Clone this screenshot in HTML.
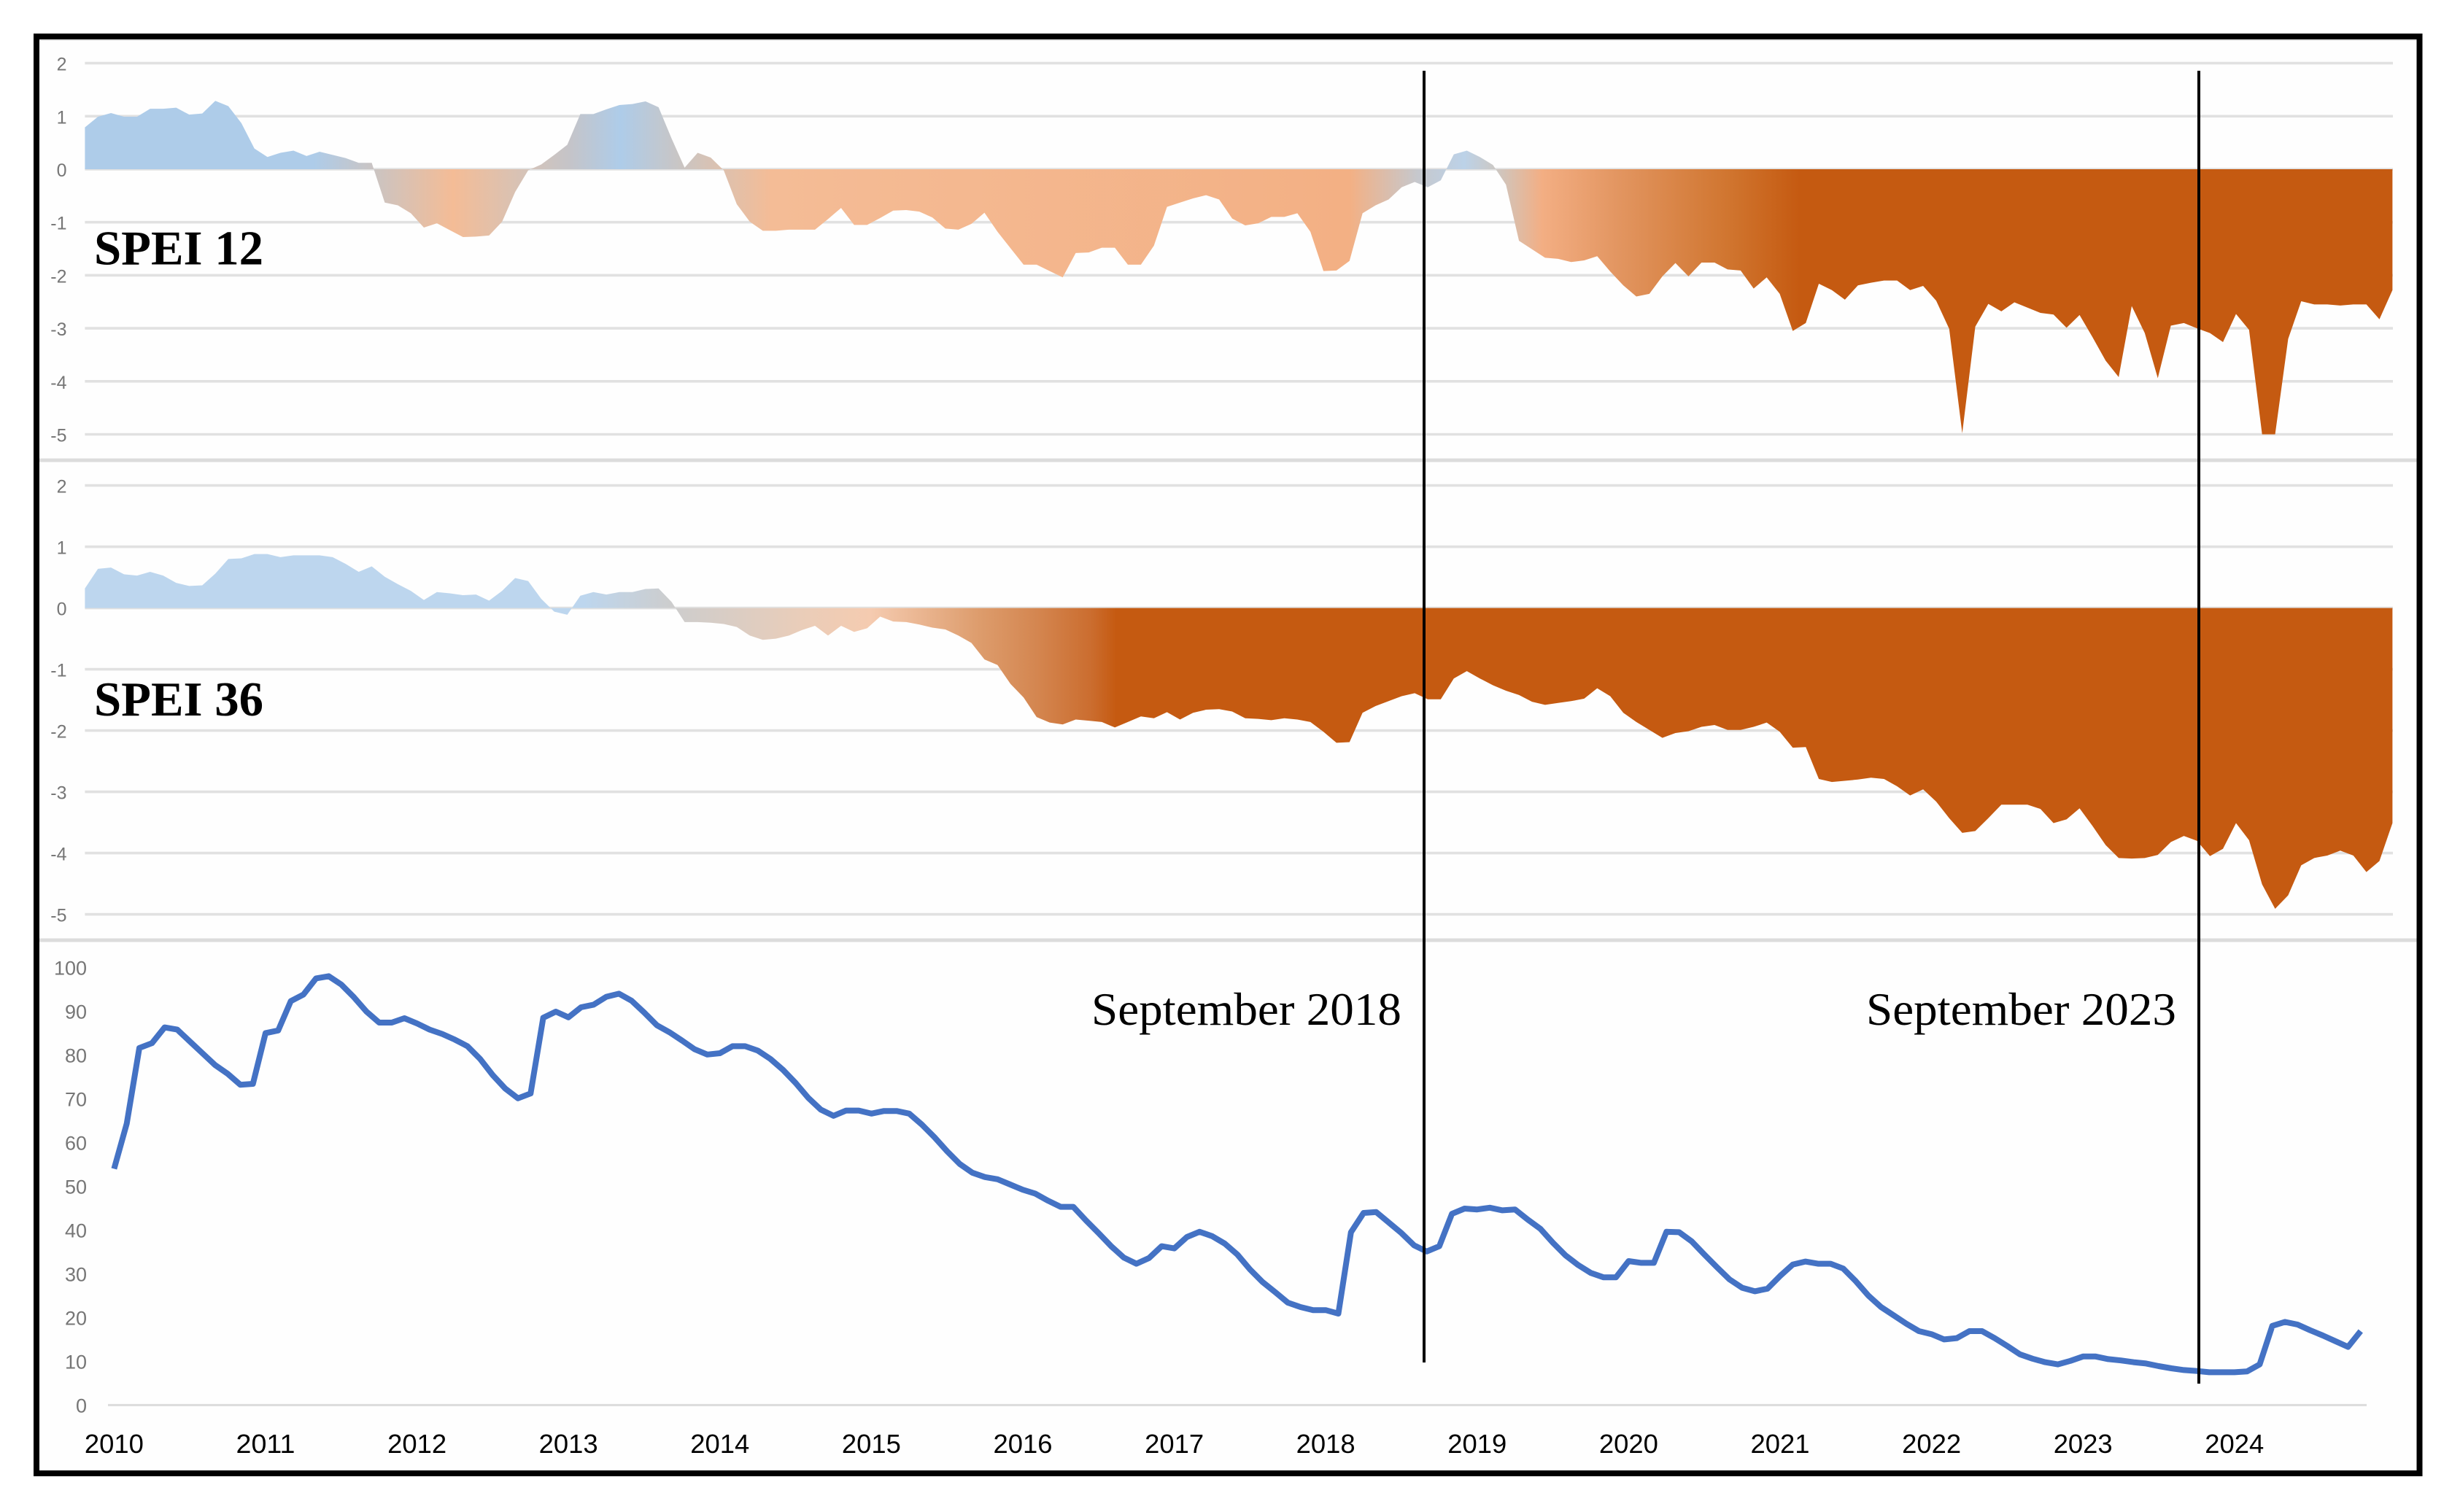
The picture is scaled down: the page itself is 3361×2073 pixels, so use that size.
<!DOCTYPE html>
<html lang="en">
<head>
<meta charset="utf-8">
<title>SPEI 12, SPEI 36 and monthly series 2010–2024</title>
<style>
html,body{margin:0;padding:0;background:#fff;width:3361px;height:2073px;overflow:hidden}
svg{display:block}
text{font-family:"Liberation Sans",sans-serif}
.serif{font-family:"Liberation Serif",serif}
</style>
</head>
<body>
<svg id="chart" xmlns="http://www.w3.org/2000/svg" width="3361" height="2073" viewBox="0 0 3361 2073">
  <defs>
    <linearGradient id="grad12" gradientUnits="userSpaceOnUse" x1="116" y1="0" x2="3280" y2="0">
      <stop offset="0" stop-color="#aecce9"/>
      <stop offset="0.0993" stop-color="#aecce9"/>
      <stop offset="0.1258" stop-color="#cbc4c2"/>
      <stop offset="0.1596" stop-color="#f4bc96"/>
      <stop offset="0.1912" stop-color="#d5c3b8"/>
      <stop offset="0.2099" stop-color="#c5c4c8"/>
      <stop offset="0.2320" stop-color="#aecce9"/>
      <stop offset="0.2592" stop-color="#cbc5c2"/>
      <stop offset="0.2975" stop-color="#f4bc96"/>
      <stop offset="0.5480" stop-color="#f3b084"/>
      <stop offset="0.5774" stop-color="#c6c8cd"/>
      <stop offset="0.5977" stop-color="#bcd2e8"/>
      <stop offset="0.6113" stop-color="#ccc8c4"/>
      <stop offset="0.6315" stop-color="#f3ae83"/>
      <stop offset="0.6650" stop-color="#e29560"/>
      <stop offset="0.7125" stop-color="#d0752f"/>
      <stop offset="0.7430" stop-color="#c55a11"/>
      <stop offset="1" stop-color="#c55a11"/>
    </linearGradient>
    <linearGradient id="grad36" gradientUnits="userSpaceOnUse" x1="116" y1="0" x2="3280" y2="0">
      <stop offset="0" stop-color="#bdd6ee"/>
      <stop offset="0.2162" stop-color="#bdd6ee"/>
      <stop offset="0.2544" stop-color="#cdcdcd"/>
      <stop offset="0.3132" stop-color="#ebcdb8"/>
      <stop offset="0.3404" stop-color="#f5cbb0"/>
      <stop offset="0.3878" stop-color="#dd9c6c"/>
      <stop offset="0.4125" stop-color="#d48650"/>
      <stop offset="0.4360" stop-color="#cb6d2f"/>
      <stop offset="0.4470" stop-color="#c55a11"/>
      <stop offset="1" stop-color="#c55a11"/>
    </linearGradient>
  </defs>
  <rect x="54" y="54" width="3259" height="1962" fill="#fefefe"/>
  <g id="layer-grid"></g>
  <g id="layer-ticks"></g>
  <g id="layer-marks"></g>
  <line x1="54" x2="3313" y1="631" y2="631" stroke="#dcdcdc" stroke-width="5"/>
  <line x1="54" x2="3313" y1="1289" y2="1289" stroke="#dcdcdc" stroke-width="5"/>
  <line x1="54" x2="3313" y1="55" y2="55" stroke="#e4e4e4" stroke-width="2"/>
  <text class="serif" x="129" y="362.5" font-size="67" font-weight="700" fill="#000" textLength="232" lengthAdjust="spacingAndGlyphs" style="font-family:'Liberation Serif',serif">SPEI 12</text>
  <text class="serif" x="129" y="981" font-size="67" font-weight="700" fill="#000" textLength="232" lengthAdjust="spacingAndGlyphs" style="font-family:'Liberation Serif',serif">SPEI 36</text>
  <text class="serif" x="1496" y="1405" font-size="63" fill="#000" textLength="425" lengthAdjust="spacingAndGlyphs" style="font-family:'Liberation Serif',serif">September 2018</text>
  <text class="serif" x="2558" y="1405" font-size="63" fill="#000" textLength="425" lengthAdjust="spacingAndGlyphs" style="font-family:'Liberation Serif',serif">September 2023</text>
  <line x1="1952" x2="1952" y1="97" y2="1868" stroke="#000" stroke-width="4"/>
  <line x1="3014" x2="3014" y1="97" y2="1897" stroke="#000" stroke-width="4"/>
  <rect x="50" y="50" width="3266.5" height="1970" fill="none" stroke="#000" stroke-width="8"/>
</svg>
<script>
const spei12Values = [
  0.79,0.99,1.06,0.99,0.99,1.14,1.14,1.16,1.03,1.05,1.29,1.19,0.87,0.39,0.23,0.31,0.35,0.25,0.33,0.27,
  0.21,0.12,0.12,-0.63,-0.68,-0.83,-1.10,-1.02,-1.15,-1.28,-1.27,-1.25,-0.99,-0.43,-0.02,0.09,0.27,0.46,1.04,1.04,
  1.13,1.21,1.23,1.28,1.17,0.58,0.03,0.31,0.22,-0.02,-0.66,-0.99,-1.16,-1.16,-1.14,-1.14,-1.14,-0.94,-0.73,-1.05,
  -1.05,-0.92,-0.78,-0.77,-0.80,-0.91,-1.12,-1.14,-1.03,-0.82,-1.18,-1.49,-1.80,-1.80,-1.92,-2.04,-1.58,-1.57,-1.48,-1.48,
  -1.80,-1.80,-1.44,-0.71,-0.63,-0.55,-0.49,-0.57,-0.93,-1.06,-1.02,-0.90,-0.90,-0.83,-1.18,-1.92,-1.91,-1.73,-0.83,-0.68,
  -0.57,-0.34,-0.24,-0.34,-0.21,0.28,0.35,0.23,0.08,-0.29,-1.35,-1.51,-1.67,-1.69,-1.75,-1.72,-1.64,-1.93,-2.19,-2.40,
  -2.35,-2.02,-1.77,-2.02,-1.76,-1.76,-1.89,-1.91,-2.25,-2.04,-2.35,-3.05,-2.90,-2.16,-2.28,-2.46,-2.19,-2.14,-2.10,-2.10,
  -2.28,-2.20,-2.48,-3.01,-4.98,-2.97,-2.54,-2.68,-2.51,-2.61,-2.71,-2.74,-2.99,-2.75,-3.17,-3.61,-3.92,-2.58,-3.09,-3.94,
  -2.95,-2.90,-3.00,-3.09,-3.26,-2.73,-3.03,-5.00,-5.00,-3.20,-2.49,-2.55,-2.55,-2.57,-2.55,-2.55,-2.83,-2.28
];
const spei36Values = [
  0.32,0.64,0.66,0.55,0.53,0.59,0.53,0.41,0.36,0.37,0.56,0.80,0.81,0.88,0.88,0.83,0.86,0.86,0.86,0.83,
  0.72,0.59,0.68,0.51,0.39,0.28,0.13,0.26,0.24,0.21,0.22,0.12,0.28,0.49,0.44,0.15,-0.06,-0.11,0.20,0.26,
  0.22,0.26,0.26,0.31,0.32,0.10,-0.23,-0.23,-0.24,-0.26,-0.31,-0.45,-0.52,-0.50,-0.45,-0.36,-0.29,-0.45,-0.29,-0.39,
  -0.33,-0.14,-0.22,-0.23,-0.27,-0.32,-0.35,-0.45,-0.57,-0.84,-0.93,-1.24,-1.46,-1.78,-1.87,-1.90,-1.82,-1.84,-1.86,-1.95,
  -1.86,-1.77,-1.80,-1.70,-1.82,-1.71,-1.66,-1.65,-1.69,-1.80,-1.81,-1.83,-1.80,-1.82,-1.86,-2.02,-2.20,-2.19,-1.71,-1.60,
  -1.52,-1.44,-1.39,-1.49,-1.49,-1.15,-1.03,-1.15,-1.26,-1.35,-1.42,-1.53,-1.58,-1.55,-1.52,-1.48,-1.31,-1.44,-1.71,-1.86,
  -1.99,-2.12,-2.04,-2.01,-1.94,-1.91,-1.99,-1.99,-1.94,-1.87,-2.02,-2.28,-2.27,-2.79,-2.84,-2.82,-2.80,-2.77,-2.79,-2.91,
  -3.06,-2.96,-3.16,-3.43,-3.67,-3.64,-3.43,-3.21,-3.21,-3.21,-3.28,-3.51,-3.45,-3.27,-3.56,-3.87,-4.08,-4.09,-4.08,-4.03,
  -3.82,-3.72,-3.80,-4.05,-3.93,-3.51,-3.79,-4.51,-4.91,-4.69,-4.20,-4.08,-4.04,-3.96,-4.04,-4.31,-4.13,-3.51
];
const lowerSeriesValues = [
  54.0,64.3,81.6,82.7,86.3,85.8,83.1,80.4,77.7,75.7,73.2,73.4,85.0,85.6,92.3,93.8,97.5,98.0,96.1,93.2,
  89.9,87.4,87.4,88.4,87.2,85.8,84.8,83.5,82.0,79.1,75.4,72.3,70.1,71.2,88.5,89.9,88.6,90.9,91.5,93.3,
  94.0,92.4,89.7,86.8,85.2,83.3,81.3,80.1,80.4,82.0,82.0,81.0,79.1,76.6,73.6,70.2,67.5,66.1,67.3,67.3,
  66.6,67.2,67.2,66.6,64.1,61.2,58.0,55.1,53.1,52.1,51.6,50.4,49.2,48.3,46.7,45.3,45.3,42.2,39.3,36.3,
  33.7,32.3,33.6,36.3,35.8,38.4,39.6,38.6,36.9,34.4,31.0,28.1,25.8,23.4,22.4,21.7,21.7,20.9,39.5,43.9,
  44.1,41.7,39.3,36.5,35.1,36.3,43.7,44.9,44.7,45.1,44.5,44.7,42.4,40.3,37.1,34.2,32.0,30.2,29.2,29.2,
  32.9,32.5,32.5,39.6,39.5,37.4,34.4,31.5,28.7,26.8,26.0,26.6,29.5,32.1,32.8,32.3,32.3,31.2,28.3,25.0,
  22.4,20.5,18.6,16.9,16.2,15.0,15.3,16.9,16.9,15.3,13.5,11.6,10.6,9.8,9.3,10.1,11.1,11.1,10.5,10.2,
  9.8,9.5,8.9,8.4,8.0,7.8,7.5,7.5,7.5,7.7,9.3,18.1,19.0,18.4,17.1,15.9,14.6,13.3,16.9
];
const yearLabels = ["2010","2011","2012","2013","2014","2015","2016","2017","2018","2019","2020","2021","2022","2023","2024"];
const speiTicks = [2,1,0,-1,-2,-3,-4,-5];
const lowerTicks = [100,90,80,70,60,50,40,30,20,10,0];

const NS = "http://www.w3.org/2000/svg";
const gridLayer = document.getElementById("layer-grid");
const tickLayer = document.getElementById("layer-ticks");
const markLayer = document.getElementById("layer-marks");

function xSpei(i){ return 116.4 + i * 17.87; }
function xLower(i){ return 156.4 + i * 17.3; }
function ySpei12(v){ return 232 - v * 72.7; }
function ySpei36(v){ return 833.6 - v * 84; }
function yLower(v){ return 1926.4 - v * 6; }

function make(tag, attrs, parent){
  const el = document.createElementNS(NS, tag);
  for (const k in attrs) el.setAttribute(k, attrs[k]);
  parent.appendChild(el);
  return el;
}

function speiPanel(prefix, values, yFn, fillId){
  speiTicks.forEach(function(t){
    const grid = make("line", {x1:116.4, x2:3280, y1:yFn(t), y2:yFn(t), stroke:"#e1e1e1", "stroke-width":3.6}, gridLayer);
    
    
    const label = make("text", {x:91.5, y:yFn(t)+10, "text-anchor":"end", "font-size":25, fill:"#767676"}, tickLayer);
    label.textContent = String(t);
    
    
  });
  let d = "M" + xSpei(0) + " " + yFn(0);
  values.forEach(function(v, i){ d += "L" + xSpei(i).toFixed(2) + " " + yFn(v).toFixed(2); });
  d += "L" + xSpei(values.length - 1).toFixed(2) + " " + yFn(0) + "Z";
  const area = make("path", {d:d, fill:"url(#" + fillId + ")"}, markLayer);
  
  
}
speiPanel("spei-12", spei12Values, ySpei12, "grad12");
speiPanel("spei-36", spei36Values, ySpei36, "grad36");

lowerTicks.forEach(function(t){
  const label = make("text", {x:119, y:yLower(t)+10, "text-anchor":"end", "font-size":27, fill:"#767676"}, tickLayer);
  label.textContent = String(t);
  
  
});
const baseline = make("line", {x1:148, x2:3244, y1:yLower(0), y2:yLower(0), stroke:"#dcdcdc", "stroke-width":3}, gridLayer);



yearLabels.forEach(function(y, i){
  const label = make("text", {x:xLower(i * 12), y:1992, "text-anchor":"middle", "font-size":36, fill:"#000", textLength:81, lengthAdjust:"spacingAndGlyphs"}, tickLayer);
  label.textContent = y;
  
  
});

const linePoints = lowerSeriesValues.map(function(v, i){ return xLower(i).toFixed(2) + "," + yLower(v).toFixed(2); }).join(" ");
const seriesLine = make("polyline", {points:linePoints, fill:"none", stroke:"#4472c4", "stroke-width":8, "stroke-linejoin":"round"}, markLayer);


</script>
</body>
</html>
